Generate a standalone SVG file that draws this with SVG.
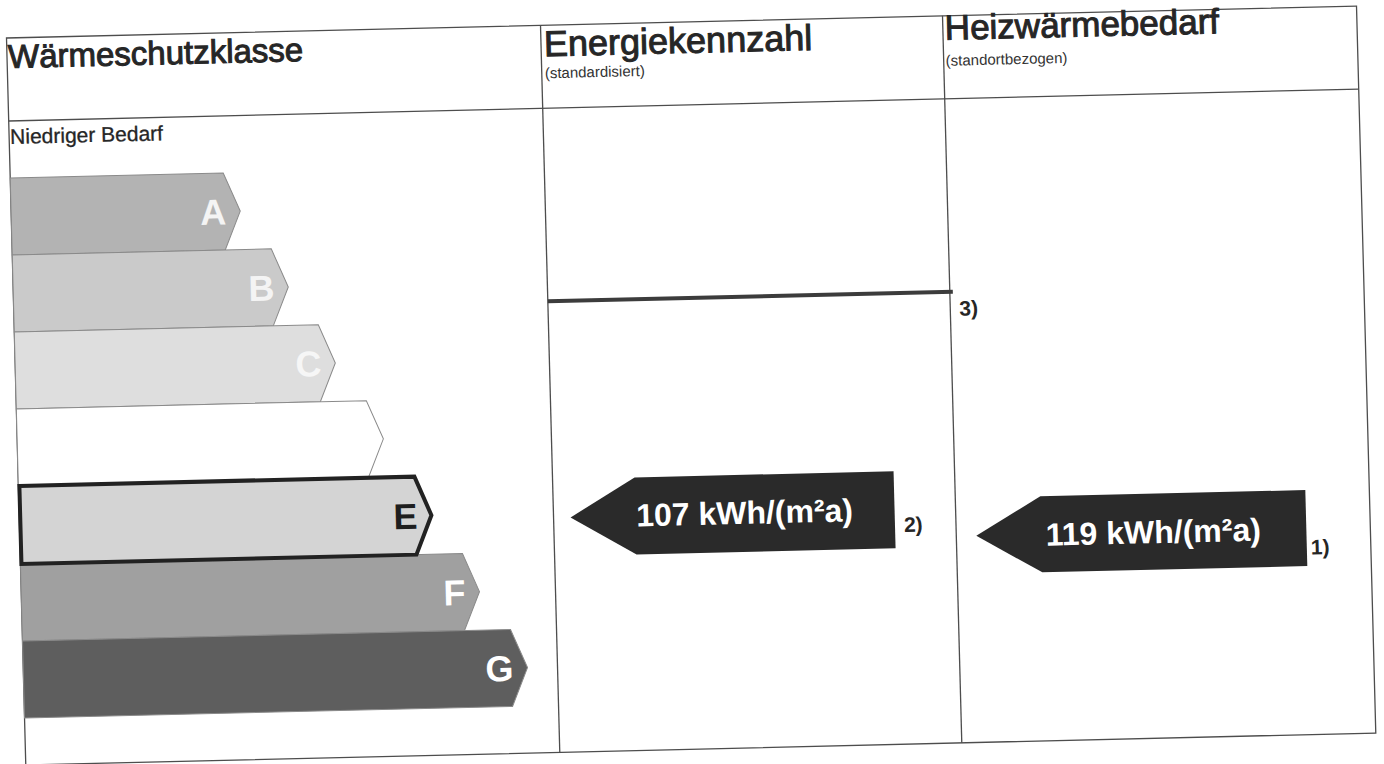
<svg xmlns="http://www.w3.org/2000/svg" width="1384" height="764" viewBox="0 0 1384 764">
<style>
.grid{fill:none;stroke:#4d4d4d;stroke-width:1.3}
.h1{font-family:"Liberation Sans",Arial,sans-serif;fill:#262626;stroke:#262626;stroke-width:1}
.sub{font-family:"Liberation Sans",Arial,sans-serif;font-size:15px;fill:#333}
.lbl{font-family:"Liberation Sans",Arial,sans-serif;font-size:21px;fill:#262626;stroke:#262626;stroke-width:0.3}
.cls{font-family:"Liberation Sans",Arial,sans-serif;font-weight:bold;font-size:36px;text-anchor:end}
.bar{stroke:#8a8a8a;stroke-width:1}
.val{fill:#2a2a2a}
.valtxt{font-family:"Liberation Sans",Arial,sans-serif;font-weight:bold;font-size:32px;fill:#fff;text-anchor:middle}
.note{font-family:"Liberation Sans",Arial,sans-serif;font-weight:bold;font-size:21px;fill:#262626}
</style>
<rect width="1384" height="764" fill="#fff"/>
<g transform="matrix(1 -0.02367 0.02653 1 6.5 38)">
  <g id="table" class="grid">
    <rect x="0" y="0" width="1350" height="727"/>
    <line x1="0" y1="83" x2="1350" y2="83"/>
    <line x1="534" y1="0" x2="534" y2="727"/>
    <line x1="936" y1="0" x2="936" y2="727"/>
  </g>
  <g id="headers">
    <text class="h1" x="1" y="30" font-size="33">Wärmeschutzklasse</text>
    <text class="h1" x="537" y="31" font-size="36">Energiekennzahl</text>
    <text class="sub" x="537" y="53">(standardisiert)</text>
    <text class="h1" x="938" y="24" font-size="35">Heizwärmebedarf</text>
    <text class="sub" x="938" y="50">(standortbezogen)</text>
    <text class="lbl" x="1" y="106">Niedriger Bedarf</text>
  </g>
  <g id="class-A">
    <polygon class="bar" fill="#b3b3b3" points="0,140 213,140 229,178.5 213,217 0,217"/>
    <text class="cls" x="215" y="191.5" fill="#f4f4f4">A</text>
  </g>
  <g id="class-B">
    <polygon class="bar" fill="#cacaca" points="0,217 259,217 275,255.5 259,294 0,294"/>
    <text class="cls" x="261" y="268.5" fill="#f4f4f4">B</text>
  </g>
  <g id="class-C">
    <polygon class="bar" fill="#dedede" points="0,294 304,294 320,332.5 304,371 0,371"/>
    <text class="cls" x="306" y="345.5" fill="#f6f6f6">C</text>
  </g>
  <g id="class-D">
    <polygon class="bar" fill="#ffffff" stroke="#666" points="0,371 350,371 366,409.5 350,448 0,448"/>
  </g>
  <g id="class-F">
    <polygon class="bar" fill="#a0a0a0" points="0,526 442,526 458,564.5 442,603 0,603"/>
    <text class="cls" x="444" y="577.5" fill="#ffffff">F</text>
  </g>
  <g id="class-G">
    <polygon class="bar" fill="#5e5e5e" points="0,603 488,603 504,641.5 488,680 0,680"/>
    <text class="cls" x="490" y="654.5" fill="#ffffff">G</text>
  </g>
  <g id="class-E">
    <polygon fill="#d4d4d4" stroke="#222" stroke-width="4" stroke-linejoin="miter" points="1,448 396,448 412,487 396,526 1,526"/>
    <text class="cls" x="398" y="500" fill="#1e1e1e">E</text>
  </g>
  <g id="connectors">
    <line id="limit-line" x1="534" y1="276" x2="939" y2="276" stroke="#3c3c3c" stroke-width="4"/>
  </g>
  <g id="value-energiekennzahl">
    <polygon class="val" points="551,492.5 616,454 875,454 875,531 616,531"/>
    <text class="valtxt" x="725" y="503">107 kWh/(m²a)</text>
  </g>
  <g id="value-heizwaermebedarf">
    <polygon class="val" points="956,520.5 1021,482.5 1286,482.5 1286,558.5 1021,558.5"/>
    <text class="valtxt" x="1133" y="532">119 kWh/(m²a)</text>
  </g>
  <g id="notes">
    <text class="note" x="945" y="300">3)</text>
    <text class="note" x="884" y="515">2)</text>
    <text class="note" x="1290" y="547">1)</text>
  </g>
</g>
</svg>
